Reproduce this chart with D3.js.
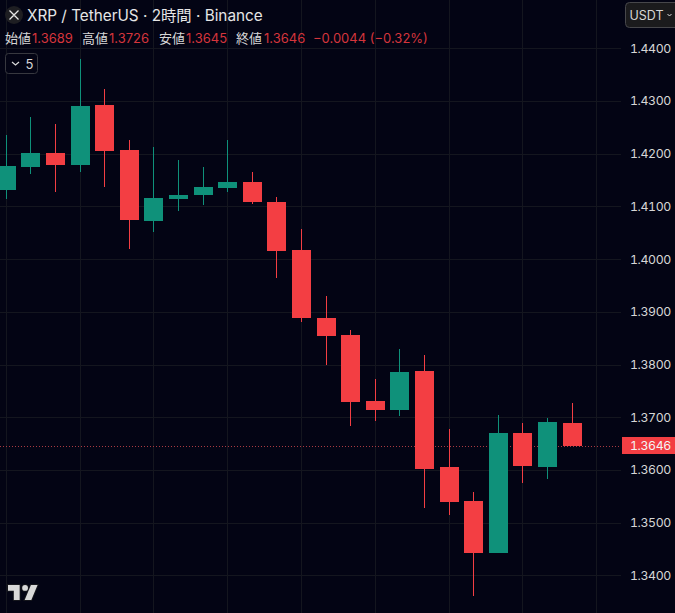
<!DOCTYPE html>
<html><head><meta charset="utf-8">
<script src="https://cdn.jsdelivr.net/npm/d3@7"></script>
<style>
html,body{margin:0;padding:0;background:#030414;overflow:hidden}
svg{display:block}
text{font-family:Inter,"Noto Sans CJK JP",sans-serif}
.ax{font-variant-numeric:tabular-nums;letter-spacing:-.35px}
</style></head><body><svg id="c" width="675" height="613"></svg>
<script>
const opens =[1.41311,1.41748,1.42013,1.41786,1.42924,1.42070,1.40723,1.41140,1.41216,1.41349,1.41463,1.41083,1.40173,1.38883,1.38560,1.37308,1.37137,1.37877,1.36055,1.35409,1.34422,1.36700,1.36055,1.3689];
const highs =[1.42355,1.42696,1.42564,1.43797,1.43228,1.42260,1.42127,1.41881,1.41748,1.42260,1.41653,1.41178,1.40571,1.39300,1.38655,1.37725,1.38295,1.38181,1.36776,1.35580,1.37042,1.36890,1.36985,1.3726];
const lows  =[1.41140,1.41615,1.41273,1.41653,1.41368,1.40192,1.40514,1.40912,1.41026,1.41273,1.41045,1.39641,1.38807,1.37991,1.36833,1.36928,1.37023,1.35276,1.35143,1.33606,1.34422,1.35751,1.35827,1.3645];
const closes=[1.41767,1.42013,1.41786,1.42905,1.42051,1.40742,1.41159,1.41216,1.41368,1.41463,1.41083,1.40154,1.38883,1.38541,1.37289,1.37137,1.37858,1.36017,1.35390,1.34422,1.36700,1.36074,1.36909,1.3646];
const upFlags=[1,1,0,1,0,0,1,1,1,1,0,0,0,0,0,0,1,0,0,0,1,0,1,0];
const priceTicks=[1.44,1.43,1.42,1.41,1.40,1.39,1.38,1.37,1.36,1.35,1.34];
const timeGrid=[0,3,6,9,12,15,18,21,24];
const lastPrice=1.3646;
const legendLabels=["始値","高値","安値","終値"];
const legendValues=["1.3689","1.3726","1.3645","1.3646"];
const legendChange="−0.0044 (−0.32%)";
const title="XRP / TetherUS · 2時間 · Binance";

const UP="#0f917a",DOWN="#f33e43",GRID="#14161f",TXT="#d6d6d6",PLOT_R=621;
const svg=d3.select("#c");
svg.append("rect").attr("width",675).attr("height",613).attr("fill","#030414");
const x=d3.scaleLinear().domain([0,23]).range([6.2,572.0]);
const y=d3.scaleLinear().domain([1.34,1.44]).range([575.3,48.3]);
const px=v=>Math.round(v);
const fx=i=>Math.floor(x(i));

// grid
svg.append("g").selectAll("line").data(timeGrid).join("line")
 .attr("x1",d=>fx(d)+.5).attr("x2",d=>fx(d)+.5).attr("y1",0).attr("y2",613)
 .attr("stroke",GRID);
const ya=svg.append("g").attr("transform",`translate(${PLOT_R},0)`)
 .call(d3.axisLeft(y).tickValues(priceTicks).tickSize(PLOT_R).tickFormat(""));
ya.select(".domain").remove();
ya.selectAll("line").attr("stroke",GRID);
ya.selectAll(".tick").attr("transform",d=>`translate(0,${Math.round(y(d))+.5})`);
const yl=svg.append("g").attr("transform","translate(671,0)")
 .call(d3.axisLeft(y).tickValues(priceTicks).tickSize(0).tickPadding(0).tickFormat(d3.format(".4f")));
yl.select(".domain").remove();
yl.selectAll("text").attr("class","ax").attr("fill",TXT).attr("font-size",12.3).attr("font-family",'Inter,sans-serif');

// last price line
svg.append("line").attr("x1",0).attr("x2",PLOT_R).attr("y1",px(y(lastPrice))+.5).attr("y2",px(y(lastPrice))+.5)
 .attr("stroke","#a83a42").attr("stroke-dasharray","1 2").attr("shape-rendering","crispEdges");

// candles
const idx=d3.range(opens.length);
const g=svg.append("g");
g.selectAll("line").data(idx).join("line")
 .attr("x1",i=>fx(i)+.5).attr("x2",i=>fx(i)+.5)
 .attr("y1",i=>px(y(highs[i]))).attr("y2",i=>px(y(lows[i])))
 .attr("stroke",i=>upFlags[i]?UP:DOWN);
g.selectAll("rect").data(idx).join("rect")
 .attr("x",i=>fx(i)-9).attr("width",19)
 .attr("y",i=>px(y(Math.max(opens[i],closes[i]))))
 .attr("height",i=>Math.max(1,px(y(Math.min(opens[i],closes[i])))-px(y(Math.max(opens[i],closes[i])))))
 .attr("fill",i=>upFlags[i]?UP:DOWN);

// last price tag
svg.append("rect").attr("x",622).attr("y",437).attr("width",53).attr("height",17).attr("fill",DOWN);
svg.append("text").attr("class","ax").attr("x",671).attr("y",y(lastPrice)+4.5).attr("text-anchor","end")
 .attr("fill","#f4f4f4").attr("font-size",12.3).text(d3.format(".4f")(lastPrice));

// title
svg.append("circle").attr("cx",14).attr("cy",15).attr("r",9).attr("fill","#1e1e22");
svg.append("path").attr("d","M9.5 10.5 L13 14 Q14 15 15 14 L18.5 10.5 M9.5 19.5 L13 16 Q14 15 15 16 L18.5 19.5")
 .attr("fill","none").attr("stroke","#e8e8e8").attr("stroke-width",1.3);
svg.append("text").attr("x",27).attr("y",21).attr("fill","#e6e6e6").attr("font-size",15.3).text(title);

// legend
const lx=[5,82,159,236],vx=[32,109,186,264];
legendLabels.forEach((t,i)=>{
 svg.append("text").attr("x",lx[i]).attr("y",43).attr("fill",TXT).attr("font-size",13).text(t);
 svg.append("text").attr("x",vx[i]).attr("y",43).attr("fill","#d5353c").attr("font-size",13).text(legendValues[i]);
});
svg.append("text").attr("x",313).attr("y",43).attr("fill","#d5353c").attr("font-size",13).text(legendChange);

// collapse button
svg.append("rect").attr("x",5.5).attr("y",53.5).attr("width",32).attr("height",20).attr("rx",3)
 .attr("fill","#030414").attr("stroke","#37383f");
svg.append("path").attr("d","M12 62 L15.5 65 L19 62").attr("fill","none").attr("stroke","#dbdbdb").attr("stroke-width",1.2);
svg.append("text").attr("x",25.5).attr("y",68.5).attr("fill",TXT).attr("font-size",13).text("5");

// USDT button
svg.append("rect").attr("x",625.5).attr("y",2.5).attr("width",60).attr("height",25).attr("rx",4)
 .attr("fill","#1b1b1d").attr("stroke","#47474b");
svg.append("text").attr("x",629.5).attr("y",19.5).attr("fill",TXT).attr("font-size",12.5).text("USDT");
svg.append("path").attr("d","M667.5 14 L669.5 16 L671.5 14").attr("fill","none").attr("stroke","#dbdbdb").attr("stroke-width",1);

// logo
svg.append("path").attr("transform","translate(8,585) scale(0.833)")
 .attr("d","M14 0H0v7h7v11h7V0ZM28 18h-8L27.5 0h8L28 18ZM20.5 0a3.5 3.5 0 1 1 0 7 3.5 3.5 0 0 1 0-7Z")
 .attr("fill","#d9d9d9").attr("stroke","#15161c").attr("stroke-width",2.4).attr("paint-order","stroke");
</script></body></html>
